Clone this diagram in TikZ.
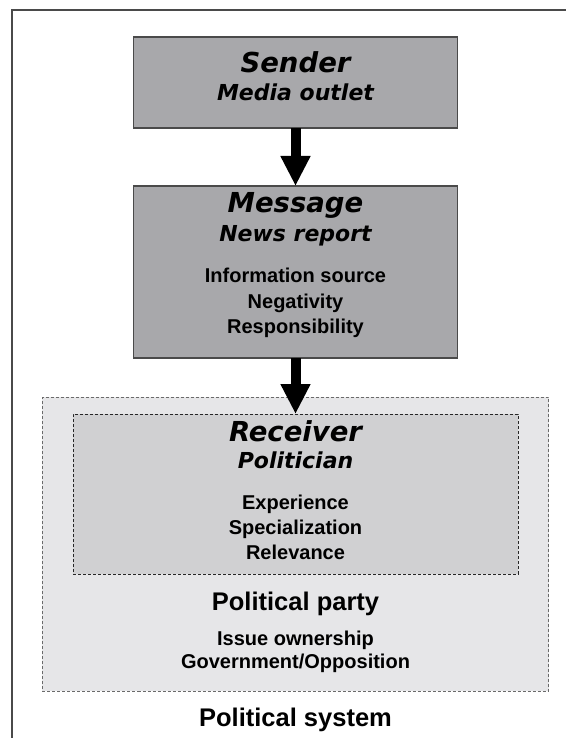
\documentclass[tikz,border=0pt]{standalone}
\usepackage{fontspec}
\setmainfont{Liberation Sans}
\newfontfamily\ttlfont{DejaVu Sans}
\usetikzlibrary{arrows.meta}
\definecolor{boxgray}{HTML}{A8A8AB}
\definecolor{boxline}{HTML}{4A4A4A}
\definecolor{partyfill}{HTML}{E6E6E8}
\definecolor{recvfill}{HTML}{D0D0D2}
\definecolor{dashgray}{HTML}{6A6A6A}
\tikzset{
  solidbox/.style={draw=boxline, fill=boxgray, line width=1.2bp, inner sep=0, outer sep=0},
  dashbox/.style={draw=#1, fill=partyfill, line width=0.9bp, dash pattern=on 3bp off 2bp, inner sep=0, outer sep=0},
  txt/.style={anchor=base, inner sep=0, outer sep=0},
  ttl/.style={txt, font=\ttlfont\bfseries\itshape\fontsize{27.5bp}{31bp}\selectfont},
  sub/.style={txt, font=\ttlfont\bfseries\itshape\fontsize{22bp}{26bp}\selectfont},
  item/.style={txt, font=\bfseries\fontsize{20bp}{24bp}\selectfont},
  big/.style={txt, font=\bfseries\fontsize{25.5bp}{29bp}\selectfont},
  flow/.style={line width=10bp, -{Triangle[width=28bp,length=30bp]}}
}
\begin{document}
\begin{tikzpicture}[x=1bp,y=-1bp]
\useasboundingbox (0,0) rectangle (566,738);
% frame
\draw[boxline, line width=1.5bp] (12,738) -- (12,10) -- (566,10);
% boxes
\node[solidbox, minimum width=324bp, minimum height=91bp] (sender) at (295.5,82.5) {};
\node[solidbox, minimum width=324bp, minimum height=172bp] (message) at (295.5,272) {};
\node[dashbox=dashgray, minimum width=506bp, minimum height=294bp] (party) at (295.5,544) {};
\node[dashbox=black!85, fill=recvfill, minimum width=445bp, minimum height=160bp] (receiver) at (295.5,494) {};
% arrows
\draw[flow] (sender.south) -- (message.north);
\draw[flow] (message.south) -- (receiver.north);
% texts
\node[ttl] (t1) at (295.5,73) {Sender};
\node[sub] (t2) at (295.5,100) {Media outlet};
\node[ttl] (t3) at (295.5,212) {Message};
\node[sub] (t4) at (295.5,241) {News report};
\node[item] (t5) at (295.5,282) {Information source};
\node[item] (t6) at (295.5,308) {Negativity};
\node[item] (t7) at (295.5,333) {Responsibility};
\node[ttl] (t8) at (295.5,441) {Receiver};
\node[sub] (t9) at (295.5,468) {Politician};
\node[item] (t10) at (295.5,509) {Experience};
\node[item] (t11) at (295.5,534) {Specialization};
\node[item] (t12) at (295.5,559) {Relevance};
\node[big] (t13) at (295.5,610) {Political party};
\node[item] (t14) at (295.5,645) {Issue ownership};
\node[item] (t15) at (295.5,668) {Government/Opposition};
\node[big] (t16) at (295.5,726) {Political system};
\end{tikzpicture}
\end{document}
